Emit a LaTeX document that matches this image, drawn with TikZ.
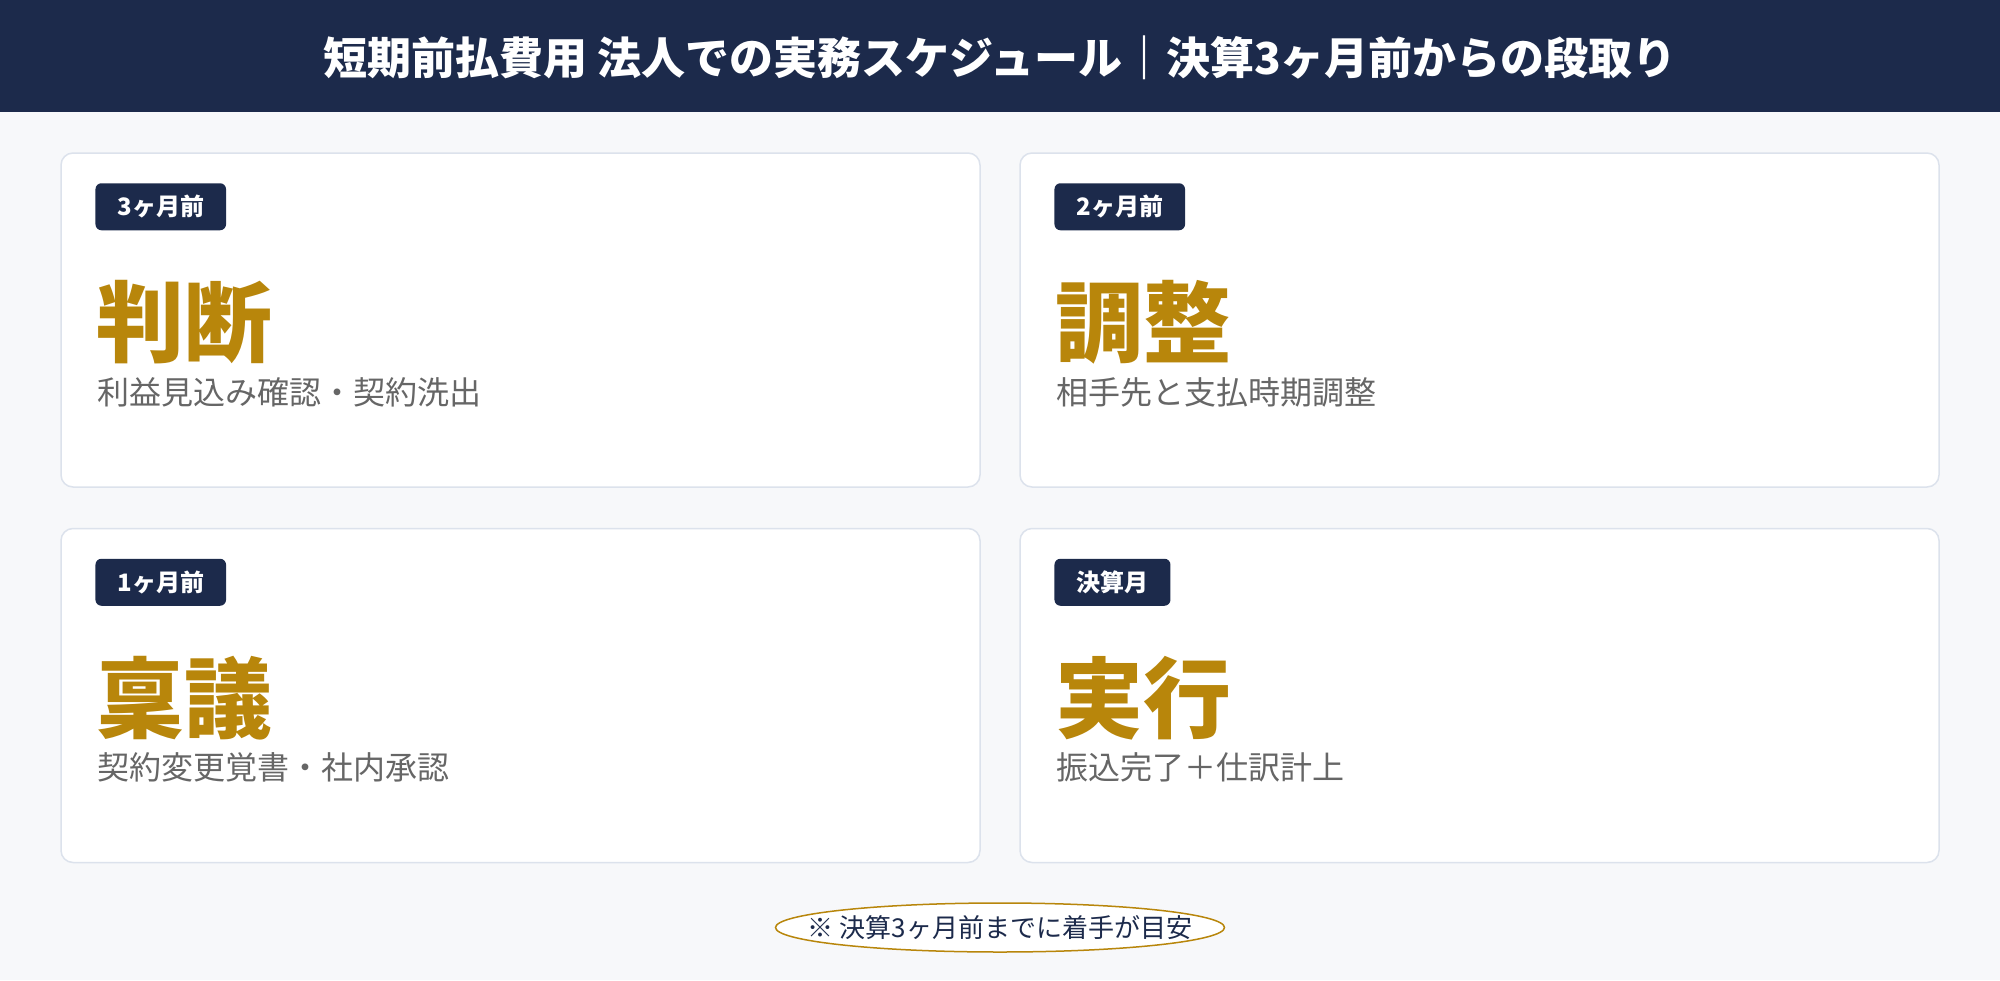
\documentclass[tikz,border=0pt]{standalone}
\usepackage{fontspec}
\setmainfont{Noto Sans CJK JP}
\usetikzlibrary{positioning}
\definecolor{navy}{HTML}{1C2A4B}
\definecolor{gold}{HTML}{B8860B}
\definecolor{taskgray}{HTML}{666666}
\definecolor{pagebg}{HTML}{F7F8FA}
\definecolor{cardline}{HTML}{DCE2EC}

\begin{document}
\begin{tikzpicture}[x=1pt,y=-1pt,
    card/.style={draw=cardline,fill=white,line width=1.5pt,rounded corners=12pt,
                 minimum width=919pt,minimum height=334pt,inner sep=0pt},
    badge/.style={fill=navy,text=white,rounded corners=6pt,minimum height=47pt,
                  inner xsep=22pt,inner ysep=0pt,anchor=west,
                  font=\fontsize{24}{28}\selectfont\bfseries},
    phase/.style={text=gold,inner sep=0pt,anchor=west,
                  font=\fontsize{88}{96}\selectfont\bfseries},
    task/.style={text=taskgray,inner sep=0pt,anchor=west,
                 font=\fontsize{32}{38}\selectfont}]

\useasboundingbox (0,0) rectangle (2000,980);
\fill[pagebg] (0,0) rectangle (2000,980);
\fill[navy] (0,0) rectangle (2000,112);

\node[text=white,font=\fontsize{44}{50}\selectfont\bfseries] (title) at (1000,58)
    {短期前払費用 法人での実務スケジュール｜決算3ヶ月前からの段取り};

\node[card] (A) at (520.5,320) {};
\node[card] (B) at (1479.5,320) {};
\node[card] (C) at (520.5,695.5) {};
\node[card] (D) at (1479.5,695.5) {};

\node[badge] (A1) at ([shift={(35,54.5)}]A.north west) {3ヶ月前};
\node[phase] (A2) at ([shift={(36,170)}]A.north west) {判断};
\node[task]  (A3) at ([shift={(37,240)}]A.north west) {利益見込み確認・契約洗出};

\node[badge] (B1) at ([shift={(35,54.5)}]B.north west) {2ヶ月前};
\node[phase] (B2) at ([shift={(36,170)}]B.north west) {調整};
\node[task]  (B3) at ([shift={(37,240)}]B.north west) {相手先と支払時期調整};

\node[badge] (C1) at ([shift={(35,54.5)}]C.north west) {1ヶ月前};
\node[phase] (C2) at ([shift={(36,170)}]C.north west) {稟議};
\node[task]  (C3) at ([shift={(37,240)}]C.north west) {契約変更覚書・社内承認};

\node[badge] (D1) at ([shift={(35,54.5)}]D.north west) {決算月};
\node[phase] (D2) at ([shift={(36,170)}]D.north west) {実行};
\node[task]  (D3) at ([shift={(37,240)}]D.north west) {振込完了＋仕訳計上};

\coordinate (notec) at (1000,927.5);
\draw[gold,fill=white,line width=1.5pt] (notec) ellipse [x radius=224.5pt,y radius=24.5pt];
\node[text=navy,font=\fontsize{26}{30}\selectfont] (note) at (notec) {※ 決算3ヶ月前までに着手が目安};
\end{tikzpicture}
\end{document}
